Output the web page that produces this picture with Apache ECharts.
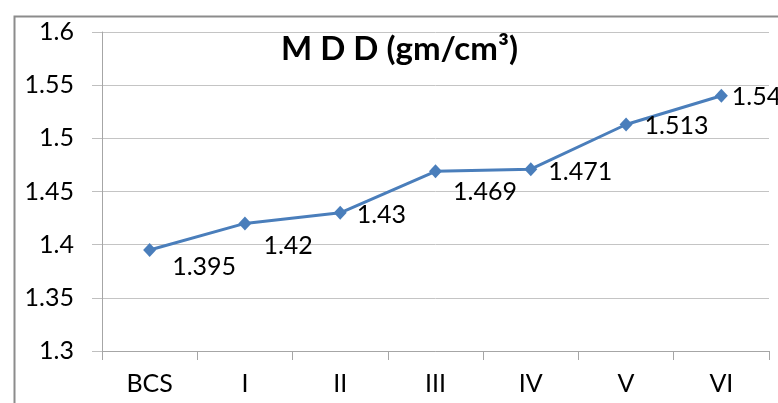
<!DOCTYPE html>
<html>
<head>
<meta charset="utf-8">
<script src="https://cdn.jsdelivr.net/npm/echarts@6/dist/echarts.min.js"></script>
<style>
html,body{margin:0;padding:0;background:#fff;}
#c{width:778px;height:403px;}
</style>
</head>
<body>
<div id="c"></div>
<script>
var categories = ['BCS', 'I', 'II', 'III', 'IV', 'V', 'VI'];
var mddValues = [1.395, 1.42, 1.43, 1.469, 1.471, 1.513, 1.54];
var titleText = 'M D D (gm/cm\u00B3)';
var yMin = 1.3, yMax = 1.6, yStep = 0.05;
// label placement (pixel shifts from each marker), Excel auto-placement
var labelShift = [[16,17],[12,23],[10,2],[11,21],[11,3],[12,1],[4,1]];

var font = 'Lato, "Open Sans", sans-serif';
var chart = echarts.init(document.getElementById('c'), null, {renderer: 'canvas'});
chart.setOption({
  animation: false,
  backgroundColor: '#ffffff',
  title: {
    text: titleText,
    left: 281, top: 33, padding: 0,
    textStyle: {fontFamily: font, fontWeight: 'bold', fontSize: 33, color: '#000'}
  },
  graphic: [{
    type: 'rect', left: 12, top: 14, silent: true, z: -1,
    shape: {width: 900, height: 600},
    style: {fill: 'none', stroke: '#8c8c8c', lineWidth: 2}
  }],
  grid: {left: 102, right: 9, top: 32, bottom: 52, containLabel: false},
  xAxis: {
    type: 'category', data: categories, boundaryGap: true,
    axisLine: {show: true, lineStyle: {color: '#a6a6a6', width: 1}},
    axisTick: {show: true, length: 9, lineStyle: {color: '#a6a6a6'}},
    axisLabel: {fontFamily: font, fontSize: 25, color: '#000', margin: 20}
  },
  yAxis: {
    type: 'value', min: yMin, max: yMax, interval: yStep,
    axisLine: {show: true, lineStyle: {color: '#a6a6a6', width: 1}},
    axisTick: {show: true, length: 10, lineStyle: {color: '#bfbfbf'}},
    splitLine: {show: true, lineStyle: {color: '#c4c4c4', width: 1}},
    axisLabel: {fontFamily: font, fontSize: 25, color: '#000', margin: 28,
      formatter: function (v) { return String(parseFloat(v.toFixed(3))); }}
  },
  series: [{
    type: 'line',
    data: mddValues.map(function (v, i) {
      return {value: v, label: {offset: labelShift[i]}};
    }),
    symbol: 'diamond', symbolSize: [13, 14],
    lineStyle: {color: '#4a7ebb', width: 3},
    itemStyle: {color: '#4a7ebb'},
    label: {
      show: true, position: 'right', distance: 0,
      fontFamily: font, fontSize: 25, color: '#000',
      formatter: function (p) { return String(p.value); }
    }
  }]
});
</script>
</body>
</html>
